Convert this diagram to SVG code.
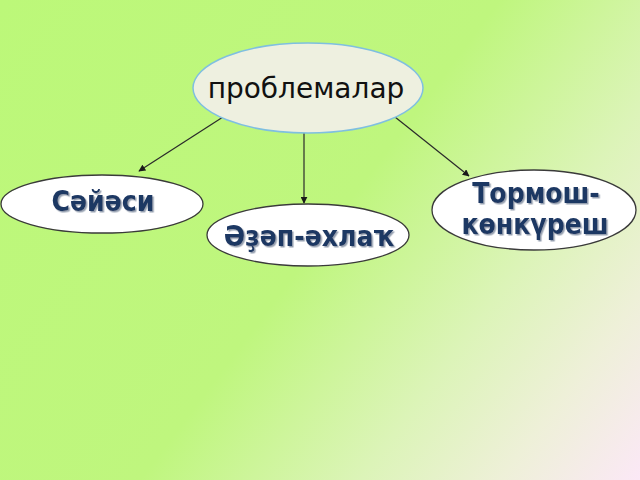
<svg xmlns="http://www.w3.org/2000/svg" width="640" height="480" viewBox="0 0 640 480">
<defs>
<linearGradient id="bg" x1="0" y1="0" x2="640" y2="480" gradientUnits="userSpaceOnUse">
<stop offset="0" stop-color="#bcf879"/>
<stop offset="0.5" stop-color="#bff67e"/>
<stop offset="0.72" stop-color="#dcf4b8"/>
<stop offset="0.86" stop-color="#eef0d8"/>
<stop offset="1" stop-color="#fbe8f6"/>
</linearGradient>
<filter id="sh" x="-10%" y="-20%" width="120%" height="140%">
<feDropShadow dx="1.5" dy="1.5" stdDeviation="0.6" flood-color="#8a96a8" flood-opacity="0.9"/>
</filter>
<marker id="ah" viewBox="0 0 10 10" refX="9" refY="5" markerWidth="7" markerHeight="7" markerUnits="userSpaceOnUse" orient="auto">
<path d="M0,0 L10,5 L0,10 z" fill="#1a1a1a"/>
</marker>
<style>
.conn{stroke:#2a2a2a;stroke-width:1.2;fill:none;marker-end:url(#ah)}
.leaf{fill:#ffffff;stroke:#3a3a3a;stroke-width:1.3}
.lbl{font-family:"DejaVu Sans Condensed","DejaVu Sans",sans-serif;font-weight:bold;font-size:28px;text-anchor:middle;fill:#1c3763;filter:url(#sh)}
</style>
</defs>
<rect width="640" height="480" fill="url(#bg)"/>
<g id="connectors">
<line class="conn" x1="223" y1="117" x2="139" y2="171"/>
<line class="conn" x1="304" y1="133" x2="304" y2="203"/>
<line class="conn" x1="395" y1="117" x2="469" y2="176"/>
</g>
<g id="root">
<ellipse cx="308" cy="88" rx="115" ry="45" fill="#eef0e0" stroke="#7fbfe0" stroke-width="1.5"/>
<text x="306" y="98" font-family="DejaVu Sans,Verdana,sans-serif" font-size="28" text-anchor="middle" fill="#111111">проблемалар</text>
</g>
<g id="n-sajasi">
<ellipse class="leaf" cx="102" cy="204" rx="101" ry="29"/>
<text class="lbl" x="103" y="211">Сәйәси</text>
</g>
<g id="n-adap">
<ellipse class="leaf" cx="308" cy="235" rx="101" ry="31"/>
<text class="lbl" x="309" y="246">Әҙәп-әхлаҡ</text>
</g>
<g id="n-tormosh">
<ellipse class="leaf" cx="534" cy="210" rx="102" ry="40"/>
<text class="lbl" x="536" y="203">Тормош-</text>
<text class="lbl" x="535" y="234">көнкүреш</text>
</g>
</svg>
